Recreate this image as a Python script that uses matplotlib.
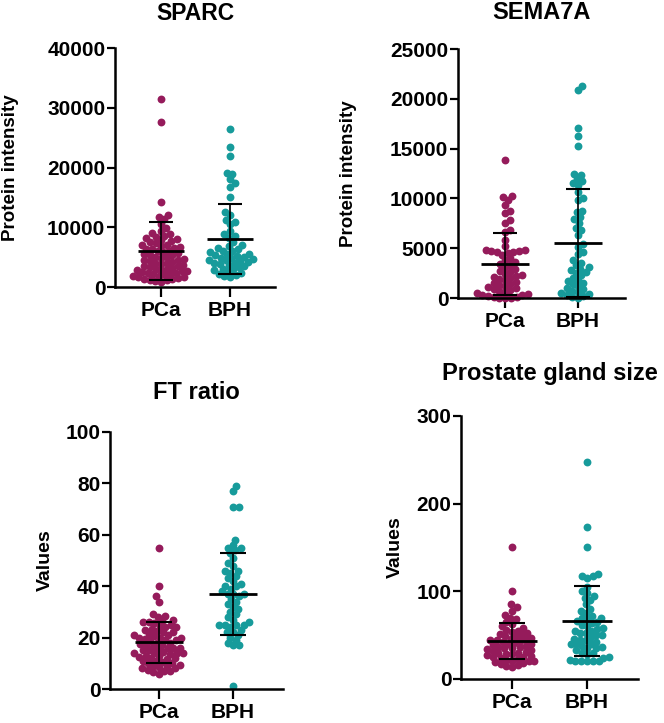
import matplotlib as mpl
mpl.use('Agg')
import matplotlib.pyplot as plt
import numpy as np

plt.rcParams['font.family'] = ['Liberation Sans', 'DejaVu Sans']
plt.rcParams['font.weight'] = 'bold'

groups = ['PCa', 'BPH']
colors = ['#951B5B', '#179B9B']

# --- values ---
sparc_pca = [31500, 27700, 14200, 12100, 11800, 11400, 10600, 9800, 9400, 9100, 8800, 8600,
             8400, 8200, 8000, 7800, 7700, 7500, 7300, 7100, 7000, 6800, 6700, 6500, 6400,
             6300, 6100, 6000, 5800, 5700, 5500, 5400, 5300, 5100, 5000, 4900, 4700, 4600,
             4500, 4400, 4200, 4100, 4000, 3900, 3700, 3600, 3500, 3400, 3200, 3100, 3000,
             2900, 2800, 2600, 2500, 2400, 2300, 2200, 2100, 2000, 1900, 1800, 1700, 1600,
             1500, 1400, 1300, 1200, 1100, 1000, 900, 2600]
sparc_bph = [26400, 23500, 22000, 19100, 18900, 18000, 17400, 16800, 15000, 12600, 12000,
             11200, 10900, 10500, 9300, 8800, 8500, 8200, 7500, 7000, 6800, 6500, 6300, 6100,
             6000, 5800, 5600, 5500, 5300, 5200, 5000, 4900, 4800, 4700, 4600, 4500, 4300,
             4200, 4100, 4000, 3900, 3700, 3500, 3300, 3100, 3000, 2800, 2600, 2400, 2200,
             2000, 1800, 1700]
sema_pca = [13900, 10200, 10100, 9800, 9300, 8700, 8500, 7800, 7500, 6800, 6600, 5800, 5200,
            4800, 4800, 4700, 4700, 4600, 4600, 4500, 4300, 4000, 3800, 3600, 3400, 3300,
            3100, 2900, 2700, 2600, 2400, 2300, 2200, 2100, 2000, 1900, 1800, 1600, 1500,
            1400, 1300, 1200, 1100, 1000, 900, 800, 700, 600, 500, 400, 350, 300, 200, 150,
            100, 50, 0, 0]
sema_bph = [21300, 20900, 17100, 16300, 15300, 12500, 12400, 12000, 11700, 11500, 11300, 10600,
            10000, 9800, 8700, 8600, 8100, 7900, 7500, 7000, 6800, 6300, 5400, 5100, 4600, 4400,
            3800, 3500, 3300, 3100, 2900, 2800, 2600, 2500, 2300, 2000, 1800, 1700, 1500, 1400,
            1200, 1000, 900, 700, 600, 500, 400, 300, 200, 100, 0]
ft_pca = [55, 40, 36, 34, 29, 28.5, 28, 27, 26.5, 26, 26, 25.5, 25, 24.5, 24, 23.5, 23, 22.5,
          22, 22, 21.5, 21, 21, 20.5, 20, 20, 19.5, 19, 19, 18.5, 18, 18, 17.5, 17, 17, 16.5,
          16, 16, 15.5, 15, 15, 14.5, 14, 14, 14, 13.5, 13, 13, 12.5, 12, 12, 11.5, 11, 11,
          10.5, 10, 10, 9.5, 9, 9, 8.5, 8, 8, 7.5, 7, 7, 6.5, 6, 14, 16, 20, 24]
ft_bph = [79, 77, 71, 71, 58, 56, 55, 55, 54, 53, 51, 49, 48, 46, 46, 45, 44, 43, 42, 41, 40,
          40, 39, 38, 37, 37, 37, 36, 35, 34, 33, 32, 31, 30, 29, 28, 27, 26, 25, 25, 25, 25,
          24, 23, 22, 22, 21, 20, 19, 18, 17, 17, 1]
size_pca = [150, 100, 85, 82, 78, 73, 70, 68, 65, 63, 60, 58, 56, 55, 54, 52, 51, 50, 49, 48,
            47, 46, 45, 45, 44, 43, 42, 41, 40, 40, 39, 38, 37, 36, 35, 35, 34, 33, 32, 31, 30,
            30, 29, 28, 27, 26, 25, 25, 24, 23, 22, 21, 20, 20, 19, 18, 17, 16, 15, 14]
size_bph = [248, 173, 150, 120, 118, 117, 115, 105, 100, 98, 95, 92, 90, 85, 80, 78, 75, 72,
            70, 70, 68, 66, 65, 64, 62, 60, 58, 57, 55, 55, 53, 52, 50, 50, 48, 46, 45, 44, 42,
            40, 40, 40, 38, 36, 35, 35, 33, 30, 30, 28, 25, 24, 22, 20, 20, 20, 20, 20]

# mean and SD as shown by the bars
sparc_mean, sparc_sd = [6050, 8000], [4850, 5900]
sema_mean, sema_sd = [3450, 5570], [3120, 5420]
ft_mean, ft_sd = [18.2, 37.0], [8.0, 15.8]
size_mean, size_sd = [43.8, 66.0], [20.5, 40.0]

titles = ['SPARC', 'SEMA7A', 'FT ratio', 'Prostate gland size']
ylabels = ['Protein intensity', 'Protein intensity', 'Values', 'Values']
yticks = [[0, 10000, 20000, 30000, 40000], [0, 5000, 10000, 15000, 20000, 25000],
          [0, 20, 40, 60, 80, 100], [0, 100, 200, 300]]

# axes boxes (left, bottom, width, height) and x limits
boxes = [[0.1732, 0.603, 0.241, 0.3306], [0.6898, 0.5878, 0.2515, 0.3444],
         [0.1657, 0.047, 0.2605, 0.3555], [0.6943, 0.0609, 0.2666, 0.3638]]
xlims = [(-0.667, 1.652), (-0.644, 1.644), (-0.662, 1.676), (-0.68, 1.68)]
label_x = [-0.656, -0.653, -0.376, -0.373]
title_y = [1.146, 1.145, 1.152, 1.163]

data = [(sparc_pca, sparc_bph), (sema_pca, sema_bph), (ft_pca, ft_bph), (size_pca, size_bph)]
means = [sparc_mean, sema_mean, ft_mean, size_mean]
sds = [sparc_sd, sema_sd, ft_sd, size_sd]


def swarm(ypx, d):
    # simple beeswarm: pixel x offsets so dots of spacing d don't overlap
    xs = np.zeros(len(ypx))
    placed = []
    for n, i in enumerate(np.argsort(ypx)):
        y = ypx[i]
        near = [(px, py) for px, py in placed if abs(py - y) < d]
        cands = [0.0]
        for px, py in near:
            dx = np.sqrt(d * d - (py - y) ** 2)
            cands += [px - dx, px + dx]
        sgn = 1 if n % 2 else -1
        cands.sort(key=lambda c: (round(abs(c), 3), sgn * c))
        for c in cands:
            if all((c - px) ** 2 + (y - py) ** 2 >= d * d - 1e-6 for px, py in near):
                xs[i] = c
                placed.append((c, y))
                break
    return xs


fig = plt.figure(figsize=(6.64, 7.23), dpi=100)

for k in range(4):
    ax = fig.add_axes(boxes[k])
    ax.set_xlim(*xlims[k])
    ax.set_ylim(yticks[k][0], yticks[k][-1])
    for s in ['top', 'right']:
        ax.spines[s].set_visible(False)
    for s in ['left', 'bottom']:
        ax.spines[s].set_linewidth(1.8)
    ax.set_yticks(yticks[k])
    ax.set_xticks([0, 1])
    ax.set_xticklabels(groups)
    ax.tick_params(axis='y', length=6, width=1.6, pad=1, labelsize=15)
    ax.tick_params(axis='x', length=7, width=1.6, pad=3, labelsize=15)
    for t in ax.get_xticklabels() + ax.get_yticklabels():
        t.set_fontweight('bold')
    ax.text(label_x[k], 0.5, ylabels[k], transform=ax.transAxes, rotation=90,
            ha='center', va='center', fontsize=14 if k > 1 else 13.5, fontweight='bold')
    ax.text(0.5, title_y[k], titles[k], transform=ax.transAxes, ha='center', va='center',
            fontsize=17 if k > 0 else 16.5, fontweight='bold')

    ppu = ax.transData.transform((1, 0))[0] - ax.transData.transform((0, 0))[0]
    for g in range(2):
        vals = np.array(data[k][g], dtype=float)
        ypx = ax.transData.transform(np.column_stack([np.zeros_like(vals), vals]))[:, 1]
        off = swarm(ypx, 5.8)
        ax.scatter(g + off / ppu, vals, s=32, color=colors[g], linewidths=0,
                   zorder=2, clip_on=False)
        m, sd = means[k][g], sds[k][g]
        ax.hlines(m, g - 0.33, g + 0.33, color='k', lw=2.0, zorder=3)
        ax.vlines(g, m - sd, m + sd, color='k', lw=1.2, zorder=3)
        ax.hlines([m - sd, m + sd], g - 0.17, g + 0.17, color='k', lw=1.5, zorder=3)

fig.savefig('out.png', dpi=100)
